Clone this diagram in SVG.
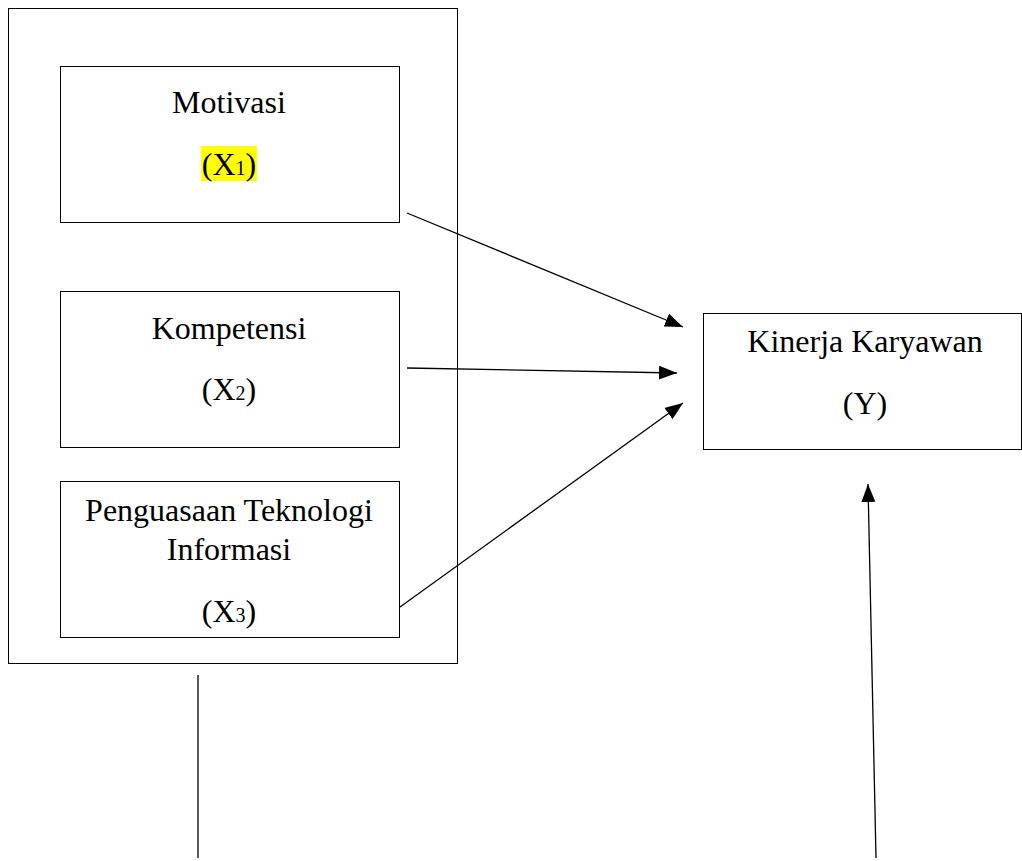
<svg xmlns="http://www.w3.org/2000/svg" width="1022" height="861" viewBox="0 0 1022 861">
<style>
.box{fill:#fff;stroke:#000;stroke-width:1}
.t{font-family:"Liberation Serif","Times New Roman",serif;font-size:32px;fill:#000;text-anchor:middle}
.sub{font-size:20px}
.c{stroke:#000;stroke-width:1.3;fill:none}
</style>
<defs>
<marker id="ah" viewBox="0 0 18 14" refX="18" refY="7" markerWidth="18" markerHeight="14" markerUnits="userSpaceOnUse" orient="auto">
<path d="M0,0 L18,7 L0,14 Z" fill="#000"/>
</marker>
</defs>
<rect width="1022" height="861" fill="#fff"/>
<g id="group-x">
<rect class="box" x="8.5" y="8.5" width="449" height="655"/>
</g>
<g id="motivasi">
<rect class="box" x="60.5" y="66.5" width="339" height="156"/>
<text class="t" x="229" y="113">Motivasi</text>
<rect x="201" y="146" width="56" height="35" fill="#ffff00"/>
<text class="t" x="229" y="175">(X<tspan class="sub">1</tspan>)</text>
</g>
<g id="kompetensi">
<rect class="box" x="60.5" y="291.5" width="339" height="156"/>
<text class="t" x="229" y="339">Kompetensi</text>
<text class="t" x="229" y="400">(X<tspan class="sub">2</tspan>)</text>
</g>
<g id="penguasaan">
<rect class="box" x="60.5" y="481.5" width="339" height="156"/>
<text class="t" x="229" y="521">Penguasaan Teknologi</text>
<text class="t" x="229" y="560">Informasi</text>
<text class="t" x="229" y="622">(X<tspan class="sub">3</tspan>)</text>
</g>
<g id="kinerja">
<rect class="box" x="703.5" y="313.5" width="318" height="136"/>
<text class="t" x="865" y="352">Kinerja Karyawan</text>
<text class="t" x="865" y="414">(Y)</text>
</g>
<g id="connectors">
<line class="c" x1="407" y1="213" x2="683" y2="327" marker-end="url(#ah)"/>
<line class="c" x1="407" y1="368" x2="677" y2="373" marker-end="url(#ah)"/>
<line class="c" x1="400" y1="607" x2="683" y2="403" marker-end="url(#ah)"/>
<line class="c" x1="876" y1="858" x2="868" y2="484" marker-end="url(#ah)"/>
<line class="c" x1="198" y1="675" x2="198" y2="858"/>
</g>
</svg>
